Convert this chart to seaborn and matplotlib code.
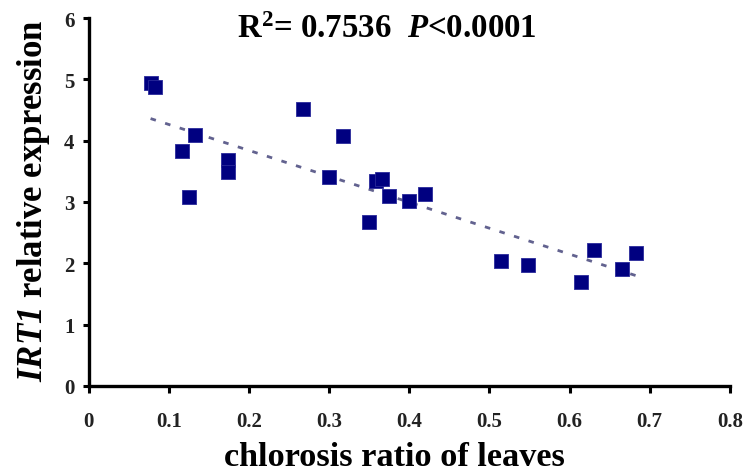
import matplotlib
matplotlib.use("Agg")
from matplotlib import pyplot as plt
import seaborn as sns
import pandas as pd

# values
chlorosis_ratio = [0.077, 0.082, 0.132, 0.116, 0.125, 0.174, 0.174, 0.267,
                   0.317, 0.300, 0.358, 0.366, 0.375, 0.400, 0.350, 0.419,
                   0.515, 0.548, 0.631, 0.614, 0.665, 0.683]
irt1_expression = [4.94, 4.87, 4.10, 3.83, 3.08, 3.68, 3.49, 4.52,
                   4.07, 3.40, 3.35, 3.37, 3.10, 3.01, 2.68, 3.13,
                   2.03, 1.97, 2.21, 1.69, 1.90, 2.16]
x_ticks = [0, 0.1, 0.2, 0.3, 0.4, 0.5, 0.6, 0.7, 0.8]
x_tick_labels = ["0", "0.1", "0.2", "0.3", "0.4", "0.5", "0.6", "0.7", "0.8"]
y_ticks = [0, 1, 2, 3, 4, 5, 6]

sns.set_style("ticks")
plt.rcParams["font.family"] = ["Liberation Serif", "DejaVu Serif"]
plt.rcParams["text.color"] = "black"
plt.rcParams["axes.labelcolor"] = "black"
plt.rcParams["mathtext.fontset"] = "custom"
plt.rcParams["mathtext.rm"] = "Liberation Serif:bold"
plt.rcParams["mathtext.it"] = "Liberation Serif:bold:italic"
plt.rcParams["mathtext.bf"] = "Liberation Serif:bold:italic"

df = pd.DataFrame({"ratio": chlorosis_ratio, "expr": irt1_expression})

fig = plt.figure(figsize=(7.47, 4.77), dpi=100)
ax = fig.add_axes([0.119, 0.189, 0.858, 0.771])

sns.regplot(
    data=df,
    x="ratio",
    y="expr",
    ci=None,
    ax=ax,
    marker="s",
    scatter_kws={"s": 115, "color": "#000080", "edgecolors": "#2a2a9a",
                 "linewidths": 0.6, "alpha": 1, "zorder": 3},
    line_kws={"color": "#62628f", "linewidth": 2, "linestyle": (0, (2, 3.5)),
              "zorder": 2},
)

ax.set_xlim(0, 0.8)
ax.set_ylim(0, 6)
ax.set_xticks(x_ticks)
ax.set_xticklabels(x_tick_labels)
ax.set_yticks(y_ticks)
for lab in ax.get_xticklabels() + ax.get_yticklabels():
    lab.set_fontweight("bold")
    lab.set_fontsize(15)
    lab.set_color("#222222")
ax.tick_params(axis="both", direction="out", width=2.2, color="black")
ax.tick_params(axis="x", length=5, pad=13)
ax.tick_params(axis="y", length=4.5, pad=6)
for side in ["left", "bottom"]:
    ax.spines[side].set_linewidth(2.4)
    ax.spines[side].set_color("black")
sns.despine(ax=ax)

ax.set_xlabel("chlorosis ratio of leaves", fontsize=24.7, fontweight="bold")
ax.xaxis.label.set_va("baseline")
ax.xaxis.set_label_coords(0.477, -0.2147)
ax.set_ylabel(r"$\mathbf{IRT1}$ relative expression", fontsize=25,
              fontweight="bold")
ax.yaxis.label.set_va("baseline")
ax.yaxis.set_label_coords(-0.0733, 0.505)

fig.text(0.518, 1 - 38 / 477, r"R$^2$= 0.7536  $P$<0.0001", fontsize=23.7,
         fontweight="bold", ha="center", va="baseline")

plt.savefig("out.png", dpi=100)
